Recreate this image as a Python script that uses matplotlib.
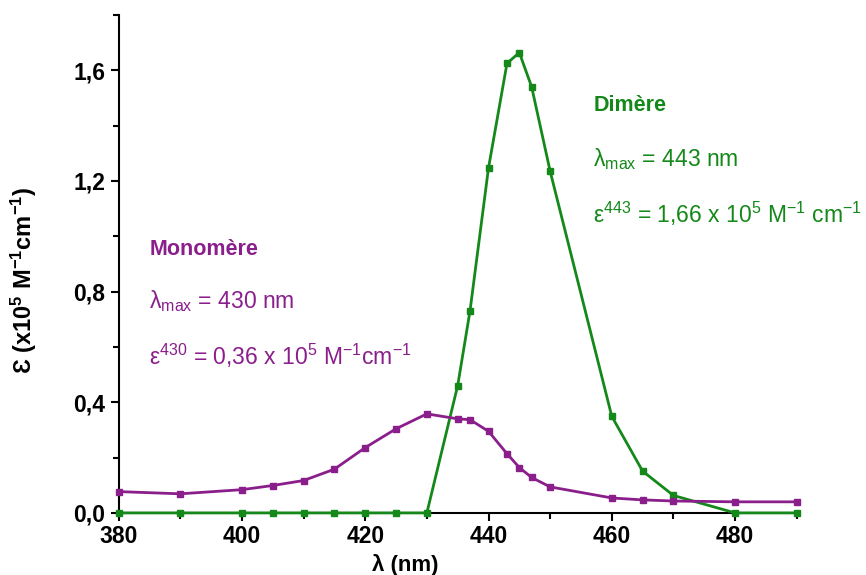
import matplotlib
matplotlib.use("Agg")
import matplotlib.pyplot as plt
from matplotlib.ticker import MultipleLocator, FuncFormatter

plt.rcParams['font.family'] = ['Liberation Sans', 'DejaVu Sans']
plt.rcParams['mathtext.fontset'] = 'custom'
plt.rcParams['mathtext.rm'] = 'Liberation Sans'
plt.rcParams['mathtext.it'] = 'Liberation Sans'
plt.rcParams['mathtext.bf'] = 'Liberation Sans:bold'

# Monomère (purple)
mono_x = [380, 390, 400, 405, 410, 415, 420, 425, 430, 435, 437, 440, 443, 445, 447, 450, 460, 465, 470, 480, 490]
mono_y = [0.077, 0.069, 0.084, 0.099, 0.117, 0.158, 0.236, 0.304, 0.358, 0.340, 0.337, 0.295, 0.214, 0.164, 0.128, 0.094, 0.054, 0.047, 0.043, 0.040, 0.040]

# Dimère (green)
dim_x = [380, 390, 400, 405, 410, 415, 420, 425, 430, 435, 437, 440, 443, 445, 447, 450, 460, 465, 470, 480, 490]
dim_y = [0.0, 0.0, 0.0, 0.0, 0.0, 0.0, 0.0, 0.0, 0.0, 0.46, 0.73, 1.247, 1.625, 1.664, 1.54, 1.235, 0.349, 0.151, 0.063, 0.0, 0.0]

x_ticks = [380, 400, 420, 440, 460, 480]

purple = '#8a1f8c'
green = '#14891a'

fig = plt.figure(figsize=(8.66, 5.75), dpi=100)
ax = fig.add_axes([0.137, 0.108, 0.783, 0.866])

ax.plot(dim_x, dim_y, color=green, lw=2, marker='s', ms=4.5, clip_on=False, zorder=3)
ax.plot(mono_x, mono_y, color=purple, lw=2, marker='s', ms=4.5, clip_on=False, zorder=4)

ax.set_xlim(380, 490)
ax.set_ylim(0, 1.8)
ax.spines['top'].set_visible(False)
ax.spines['right'].set_visible(False)
ax.spines['left'].set_linewidth(1.5)
ax.spines['bottom'].set_linewidth(1.5)

ax.xaxis.set_major_locator(MultipleLocator(20))
ax.xaxis.set_minor_locator(MultipleLocator(10))
ax.yaxis.set_major_locator(MultipleLocator(0.4))
ax.yaxis.set_minor_locator(MultipleLocator(0.2))
ax.yaxis.set_major_formatter(FuncFormatter(lambda v, p: f"{v:.1f}".replace('.', ',')))
ax.tick_params(axis='both', which='major', length=6, width=1.5, labelsize=16.5, direction='out')
ax.tick_params(axis='both', which='minor', length=4, width=1.5, direction='out')
ax.set_xticks(x_ticks)
for lab in ax.get_xticklabels() + ax.get_yticklabels():
    lab.set_fontweight('bold')
ax.tick_params(axis='x', pad=3)

ax.set_xlabel('λ (nm)', fontsize=16, fontweight='bold')
ax.xaxis.set_label_coords((426.5 - 380) / 110, -0.083)
ax.set_ylabel(r'Ɛ (x10$\mathbf{^5}$ M$\mathbf{^{-1}}$cm$\mathbf{^{-1}}$)', fontsize=17, fontweight='bold')
ax.yaxis.label.set_verticalalignment('center')
ax.yaxis.set_label_coords(-0.14, 0.468)

# Annotations
ax.text(385, 0.953, 'Monomère', color=purple, fontsize=15.5, fontweight='bold', va='center')
ax.text(385, 0.764, r'λ$_{\mathrm{max}}$ = 430 nm', color=purple, fontsize=16.5, va='center')
ax.text(385, 0.569, r'ε$^{\mathrm{430}}$ = 0,36 x 10$^{5}$ M$^{-1}$cm$^{-1}$', color=purple, fontsize=16.5, va='center')

ax.text(457, 1.471, 'Dimère', color=green, fontsize=15.5, fontweight='bold', va='center')
ax.text(457, 1.279, r'λ$_{\mathrm{max}}$ = 443 nm', color=green, fontsize=16.5, va='center')
ax.text(457, 1.08, r'ε$^{\mathrm{443}}$ = 1,66 x 10$^{5}$ M$^{-1}$ cm$^{-1}$', color=green, fontsize=16.5, va='center')

fig.savefig('out.png', dpi=100)
